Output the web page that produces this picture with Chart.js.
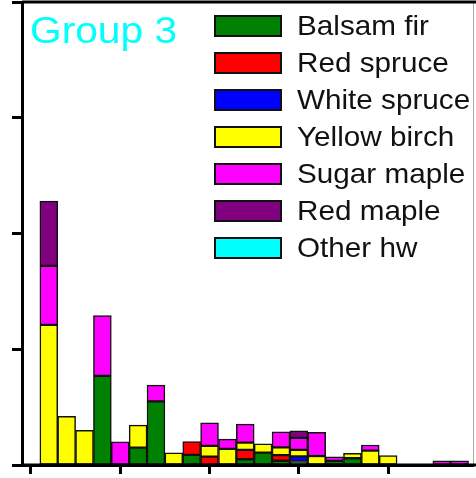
<!DOCTYPE html>
<html>
<head>
<meta charset="utf-8">
<script src="https://cdn.jsdelivr.net/npm/chart.js@4/dist/chart.umd.min.js"></script>
<style>
  html, body { margin: 0; padding: 0; background: #fff; overflow: hidden; }
  #wrap { position: relative; width: 476px; height: 478px; }
  #chart { position: absolute; left: 0; top: 0; }
  .title {
    position: absolute; left: 30px; top: 12px;
    font: 37px/37px "Liberation Sans", Arial, sans-serif;
    color: #00ffff; white-space: nowrap;
    transform: scaleX(1.1); transform-origin: left top;
  }
  .legend { position: absolute; left: 214px; top: 15px; }
  .legend .row { position: relative; height: 37px; }
  .legend .box {
    position: absolute; left: 0; top: 0; width: 68px; height: 22px;
    box-sizing: border-box; border: 2px solid #111;
  }
  .legend .lbl {
    position: absolute; left: 83px; top: 0; height: 22px;
    font: 28px/22px "Liberation Sans", Arial, sans-serif;
    color: #111; white-space: nowrap;
    transform: scaleX(1.06); transform-origin: left top;
  }
</style>
</head>
<body>
<div id="wrap">
  <canvas id="chart" width="476" height="478"></canvas>
  <div class="title">Group 3</div>
  <div class="legend" id="legend"></div>
</div>
<script>
// size classes (bar positions along the x axis)
const classes = [1, 2, 3, 4, 5, 6, 7, 8, 9, 10, 11, 12, 13, 14, 15, 16, 17, 18, 19, 20, 21, 22, 23, 24];
const xTicks = [0, 5, 10, 15, 20];
const yTicks = [0, 10, 20, 30, 40];

const seriesNames = ['Balsam fir', 'Red spruce', 'White spruce', 'Yellow birch', 'Sugar maple', 'Red maple', 'Other hw'];
const seriesColors = ['#008000', '#ff0000', '#0000ff', '#ffff00', '#ff00ff', '#800080', '#00ffff'];

const balsamFir   = [0, 0, 0, 7.7, 0, 1.5, 5.5, 0, 0.87, 0, 0, 0.5, 1.07, 0.37, 0.3, 0, 0.35, 0.58, 0, 0, 0, 0, 0, 0];
const redSpruce   = [0, 0, 0, 0, 0, 0, 0, 0, 1.15, 0.72, 0, 0.8, 0, 0.49, 0, 0, 0, 0, 0, 0, 0, 0, 0, 0];
const whiteSpruce = [0, 0, 0, 0, 0, 0, 0, 0, 0, 0, 0, 0, 0, 0, 0.45, 0, 0, 0, 0, 0, 0, 0, 0, 0];
const yellowBirch = [12.1, 4.2, 3.0, 0, 0, 1.95, 0, 1.05, 0, 0.93, 1.4, 0.63, 0.75, 0.66, 0.55, 0.78, 0, 0.43, 1.24, 0.81, 0, 0, 0, 0];
const sugarMaple  = [5.1, 0, 0, 5.2, 2.0, 0, 1.4, 0, 0, 2.0, 0.84, 1.6, 0, 1.35, 1.05, 2.05, 0.35, 0, 0.49, 0, 0, 0, 0.35, 0.35];
const redMaple    = [5.6, 0, 0, 0, 0, 0, 0, 0, 0, 0, 0, 0, 0, 0, 0.6, 0, 0, 0, 0, 0, 0, 0, 0, 0];
const otherHw     = [0, 0, 0, 0, 0, 0, 0, 0, 0, 0, 0, 0, 0, 0, 0, 0, 0, 0, 0, 0, 0, 0, 0, 0];

const seriesValues = [balsamFir, redSpruce, whiteSpruce, yellowBirch, sugarMaple, redMaple, otherHw];

function buildDatasets() {
  return seriesNames.map((name, i) => ({
    label: name,
    data: classes.map((x, j) => ({ x, y: seriesValues[i][j] || null })),
    backgroundColor: seriesColors[i],
    borderColor: '#111',
    borderWidth: 1.5,
    borderSkipped: false,
    barPercentage: 1,
    categoryPercentage: 1
  }));
}

function buildLegend() {
  const el = document.getElementById('legend');
  seriesNames.forEach((name, i) => {
    const row = document.createElement('div');
    row.className = 'row';
    const box = document.createElement('div');
    box.className = 'box';
    box.style.background = seriesColors[i];
    const lbl = document.createElement('div');
    lbl.className = 'lbl';
    lbl.textContent = name;
    row.appendChild(box);
    row.appendChild(lbl);
    el.appendChild(row);
  });
}

// top frame, right frame and the bottom axis running on to the edge
const framePlugin = {
  id: 'frame',
  afterDraw(chart) {
    const { ctx, chartArea: a } = chart;
    ctx.save();
    ctx.strokeStyle = '#aaa';
    ctx.lineWidth = 1;
    ctx.beginPath();
    ctx.moveTo(a.right + 0.5, a.top);
    ctx.lineTo(a.right + 0.5, a.bottom);
    ctx.stroke();
    ctx.strokeStyle = '#000';
    ctx.lineWidth = 3;
    ctx.beginPath();
    ctx.moveTo(a.left, a.top);
    ctx.lineTo(chart.width, a.top);
    ctx.moveTo(a.left, a.bottom);
    ctx.lineTo(chart.width, a.bottom);
    ctx.stroke();
    ctx.restore();
  }
};

function renderChart() {
  const ctx = document.getElementById('chart').getContext('2d');
  new Chart(ctx, {
    type: 'bar',
    data: { datasets: buildDatasets() },
    options: {
      responsive: false,
      animation: false,
      layout: { padding: { left: 12, top: 2, right: 3, bottom: 4 } },
      plugins: { legend: { display: false }, tooltip: { enabled: false }, title: { display: false } },
      scales: {
        x: {
          type: 'linear',
          stacked: true,
          offset: false,
          min: -0.5,
          max: 24.75,
          afterBuildTicks: s => { s.ticks = xTicks.map(v => ({ value: v })); },
          ticks: { display: false },
          grid: { display: true, offset: false, drawOnChartArea: false, drawTicks: true, tickLength: 9, tickWidth: 3, tickColor: '#000' },
          border: { display: true, color: '#000', width: 3 }
        },
        y: {
          stacked: true,
          min: 0,
          max: 40,
          afterBuildTicks: s => { s.ticks = yTicks.map(v => ({ value: v })); },
          ticks: { display: false },
          grid: { display: true, drawOnChartArea: false, drawTicks: true, tickLength: 10, tickWidth: 3, tickColor: '#000' },
          border: { display: true, color: '#000', width: 3 }
        }
      }
    },
    plugins: [framePlugin]
  });
}

function init() {
  buildLegend();
  renderChart();
}
document.addEventListener('DOMContentLoaded', init);
</script>
</body>
</html>
